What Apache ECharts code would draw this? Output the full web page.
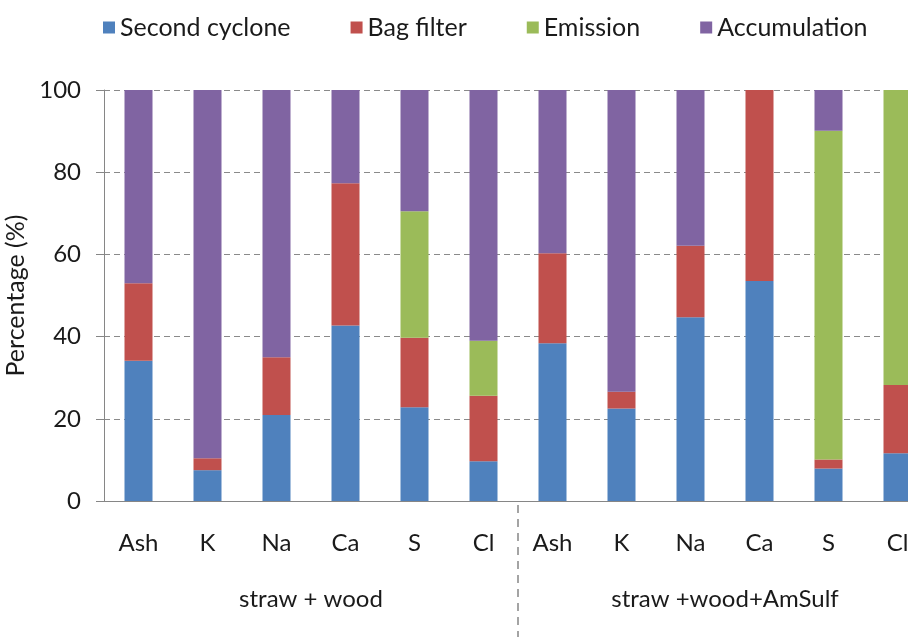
<!DOCTYPE html>
<html>
<head>
<meta charset="utf-8">
<script src="https://cdn.jsdelivr.net/npm/echarts@6/dist/echarts.min.js"></script>
<style>
  html, body { margin: 0; padding: 0; background: #fff; }
  #chart { width: 908px; height: 637px; }
</style>
</head>
<body>
<div id="chart"></div>
<script>
// elements, two fuel mixes of six each
const categories = ['Ash', 'K', 'Na', 'Ca', 'S', 'Cl', 'Ash', 'K', 'Na', 'Ca', 'S', 'Cl'];
const groups = ['straw + wood', 'straw +wood+AmSulf'];
const yTicks = [0, 20, 40, 60, 80, 100];

// percentage (null = nothing there)
const secondCyclone = [34.1, 7.5, 20.9, 42.7, 22.8, 9.7, 38.4, 22.5, 44.7, 53.5, 7.9, 11.6];
const bagFilter     = [18.9, 2.9, 14.1, 34.6, 16.9, 15.9, 21.9, 4.1, 17.4, 46.5, 2.2, 16.6];
const emission      = [null, null, null, null, 30.8, 13.4, null, null, null, null, 80.0, 71.8];
const accumulation  = [47.0, 89.6, 65.0, 22.7, 29.5, 61.0, 39.7, 73.4, 37.9, null, 9.9, null];

const FONT = 'Lato';
const chart = echarts.init(document.getElementById('chart'));

function bar(name, data, color) {
  return {
    name: name,
    type: 'bar',
    stack: 'total',
    barWidth: 28,
    data: data,
    itemStyle: { color: color },
    emphasis: { disabled: true }
  };
}

chart.setOption({
  animation: false,
  textStyle: { fontFamily: FONT, color: '#000' },
  legend: {
    top: 10,
    left: 98,
    icon: 'rect',
    itemWidth: 12,
    itemHeight: 12,
    itemGap: 60,
    textStyle: { fontFamily: FONT, fontSize: 25, color: '#1a1a1a' }
  },
  // plot runs past the right edge, the last bar is cut in the original
  grid: { left: 104, top: 90, width: 828, bottom: 136, outerBoundsMode: 'none' },
  xAxis: [
    {
      type: 'category',
      data: categories,
      axisLine: { lineStyle: { color: '#868686' } },
      axisTick: { length: 8, lineStyle: { color: '#868686' } },
      axisLabel: { fontSize: 24, color: '#1a1a1a', margin: 30, interval: 0 }
    },
    {
      type: 'category',
      data: groups,
      position: 'bottom',
      axisLine: { show: false },
      axisTick: { show: false },
      axisLabel: { fontSize: 24, color: '#1a1a1a', margin: 86 }
    }
  ],
  yAxis: {
    type: 'value',
    min: yTicks[0],
    max: yTicks[yTicks.length - 1],
    interval: 20,
    name: 'Percentage (%)',
    nameLocation: 'middle',
    nameRotate: 90,
    nameGap: 69,
    nameTextStyle: { fontSize: 25, color: '#1a1a1a' },
    axisLine: { show: true, lineStyle: { color: '#868686' } },
    axisTick: { show: true, length: 8, lineStyle: { color: '#868686' } },
    axisLabel: { fontSize: 24, color: '#1a1a1a', margin: 23 },
    splitLine: { lineStyle: { color: '#8a8a8a', type: [6, 4] } }
  },
  series: [
    bar('Second cyclone', secondCyclone, '#4F81BD'),
    bar('Bag filter', bagFilter, '#C0504D'),
    bar('Emission', emission, '#9BBB59'),
    bar('Accumulation', accumulation, '#8064A2')
  ]
});

// dashed divider between the two groups, placed from the axis scale
const xa = chart.convertToPixel({ xAxisIndex: 0 }, 5);
const xb = chart.convertToPixel({ xAxisIndex: 0 }, 6);
const y0 = chart.convertToPixel({ yAxisIndex: 0 }, 0);
chart.setOption({
  graphic: [{
    type: 'line',
    shape: { x1: (xa + xb) / 2, y1: y0 + 4, x2: (xa + xb) / 2, y2: 637 },
    style: { stroke: '#868686', lineWidth: 1.5, lineDash: [8, 6] }
  }]
});
</script>
</body>
</html>
